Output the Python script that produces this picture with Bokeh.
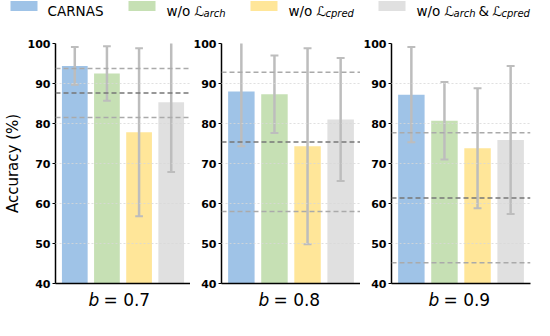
from bokeh.plotting import figure
from bokeh.layouts import column, row
from bokeh.models import Range1d, FixedTicker, Span, ColumnDataSource
from bokeh.core.properties import value
from bokeh.embed import file_html
from bokeh.resources import INLINE

# ---------------- data ----------------
methods = ["CARNAS", "w/o L_arch", "w/o L_cpred", "w/o L_arch & L_cpred"]
colors = ["#9fc3e7", "#c6e0b4", "#ffe699", "#e0e0e0"]
b_labels = ["0.7", "0.8", "0.9"]
acc_07 = [94.4, 92.5, 77.8, 85.3]
err_07 = [4.7, 6.8, 21.0, 17.4]
acc_08 = [88.0, 87.3, 74.3, 81.0]
err_08 = [13.7, 9.7, 24.5, 15.4]
acc_09 = [87.2, 80.7, 73.8, 75.9]
err_09 = [11.9, 9.7, 15.0, 18.5]
# dashed reference lines (upper, mean, lower)
ref_07 = [93.75, 87.65, 81.5]
ref_08 = [92.8, 75.4, 58.0]
ref_09 = [77.7, 61.4, 45.2]
y_ticks = [40, 50, 60, 70, 80, 90, 100]

FONT = "DejaVu Sans"
FRAME_W = 142


def panel(acc, err, ref, blabel, first, last):
    left = 48 if first else 28
    right = 4 if last else 0
    xr = Range1d(-0.6, 3.6)
    p = figure(width=left + FRAME_W + right, height=267,
               x_range=xr, y_range=Range1d(40, 100),
               output_backend="svg", toolbar_location=None,
               min_border_left=left, min_border_right=right,
               min_border_top=21, min_border_bottom=6)
    p.outline_line_color = None
    xs = list(range(len(acc)))
    src = ColumnDataSource(dict(x=xs, top=acc, color=colors,
                                lo=[a - e for a, e in zip(acc, err)],
                                hi=[a + e for a, e in zip(acc, err)]))
    p.vbar(x="x", top="top", bottom=40, width=0.8, fill_color="color",
           line_color=None, source=src)
    # error bars
    p.segment(x0="x", y0="lo", x1="x", y1="hi", line_color="#bdbdbd",
              line_width=2.5, source=src)
    cap = 0.12
    csrc = ColumnDataSource(dict(x0=[x - cap for x in xs] * 2,
                                 x1=[x + cap for x in xs] * 2,
                                 y=src.data["lo"] + src.data["hi"]))
    p.segment(x0="x0", y0="y", x1="x1", y1="y", line_color="#bdbdbd",
              line_width=2, source=csrc)
    # reference dashed lines
    for i, r in enumerate(ref):
        p.add_layout(Span(location=r, dimension="width",
                          line_color="#777777" if i == 1 else "#aaaaaa",
                          line_width=1.5, line_dash="5 3"))
    # axes
    p.xaxis.ticker = FixedTicker(ticks=[])
    p.xaxis.axis_line_color = "black"
    p.xaxis.axis_line_width = 1.5
    p.xaxis.minor_tick_line_color = None
    p.xaxis.major_tick_line_color = None
    p.xaxis.major_tick_out = 0
    p.xaxis.major_tick_in = 0
    p.xaxis.major_label_standoff = 0
    p.yaxis.ticker = FixedTicker(ticks=y_ticks)
    p.yaxis.axis_line_color = "black"
    p.yaxis.axis_line_width = 1.5
    p.yaxis.major_tick_line_color = "black"
    p.yaxis.major_tick_in = 0
    p.yaxis.major_tick_out = 3
    p.yaxis.minor_tick_line_color = None
    p.yaxis.major_label_standoff = 2
    p.yaxis.major_label_text_font = FONT
    p.yaxis.major_label_text_font_size = "11px"
    p.yaxis.major_label_text_font_style = "bold"
    p.yaxis.major_label_text_color = "black"
    if first:
        p.yaxis.axis_label = "Accuracy (%)"
        p.yaxis.axis_label_text_font = FONT
        p.yaxis.axis_label_text_font_size = "15px"
        p.yaxis.axis_label_text_font_style = "normal"
        p.yaxis.axis_label_text_color = "black"
        p.yaxis.axis_label_standoff = 3
    # grid
    p.xgrid.grid_line_color = None
    p.ygrid.ticker = FixedTicker(ticks=y_ticks)
    p.ygrid.grid_line_color = "#d8d8d8"
    p.ygrid.grid_line_alpha = 0.8
    p.ygrid.grid_line_dash = "2 2"
    p.ygrid.level = "overlay"

    # strip below the panel holding the "b = 0.x" label (shares the x scale)
    s = figure(width=left + FRAME_W + right, height=24, x_range=xr,
               y_range=Range1d(0, 1), output_backend="svg", toolbar_location=None,
               min_border_left=left, min_border_right=right,
               min_border_top=0, min_border_bottom=0)
    s.outline_line_color = None
    s.axis.visible = False
    s.grid.visible = False
    s.text(x=[1.5], y=[1], text=["b"], x_offset=-31, y_offset=0,
           text_font=value(FONT), text_font_style="italic", text_font_size="17px",
           text_align="left", text_baseline="top", text_color="black")
    s.text(x=[1.5], y=[1], text=["= " + blabel], x_offset=-16, y_offset=0,
           text_font=value(FONT), text_font_size="17px",
           text_align="left", text_baseline="top", text_color="black")
    return p, s


f1, s1 = panel(acc_07, err_07, ref_07, b_labels[0], True, False)
f2, s2 = panel(acc_08, err_08, ref_08, b_labels[1], False, False)
f3, s3 = panel(acc_09, err_09, ref_09, b_labels[2], False, True)

# ---------------- legend ----------------
lg = figure(width=534, height=22, x_range=Range1d(0, 534), y_range=Range1d(22, 0),
            output_backend="svg", toolbar_location=None,
            min_border=0, min_border_left=0, min_border_right=0,
            min_border_top=0, min_border_bottom=0)
lg.outline_line_color = None
lg.axis.visible = False
lg.grid.visible = False
patch_left = [10, 128, 250, 378]
lg.quad(left=patch_left, right=[v + 27 for v in patch_left], top=0.5, bottom=10.5,
        fill_color=colors, line_color=None)
main_txt = ["CARNAS", "w/o", "ℒ", "w/o", "ℒ", "w/o", "ℒ", "&", "ℒ"]
main_x = [47, 166, 194, 288, 316, 416, 444, 478, 492]
main_style = ["normal", "normal", "italic", "normal", "italic", "normal", "italic", "normal", "italic"]
lg.text(x=main_x, y=10.5, text=main_txt, text_font=value(FONT), text_font_size="13.5px",
        text_font_style=main_style, text_baseline="alphabetic", text_align="left",
        text_color="black")
sub_txt = ["arch", "cpred", "arch", "cpred"]
sub_x = [203, 325, 453, 501]
lg.text(x=sub_x, y=13, text=sub_txt, text_font=value(FONT), text_font_size="10px",
        text_font_style="italic", text_baseline="alphabetic", text_align="left",
        text_color="black")

layout = column(lg, row(f1, f2, f3), row(s1, s2, s3))
open("out.html", "w").write(file_html(layout, INLINE))
